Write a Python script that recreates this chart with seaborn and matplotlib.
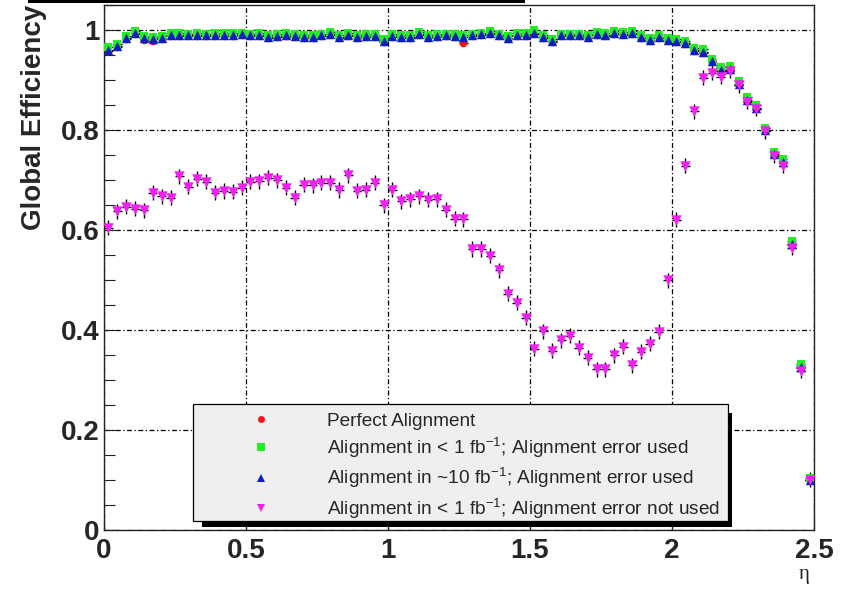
import numpy as np
import pandas as pd
import matplotlib
matplotlib.use("Agg")
import matplotlib.pyplot as plt
from matplotlib.lines import Line2D
from matplotlib.patches import Rectangle
from matplotlib.ticker import FixedLocator, FixedFormatter, MultipleLocator
import seaborn as sns

# 80 eta bins between 0 and 2.5
eta_edges = np.linspace(0.0, 2.5, 81)
eta = 0.5 * (eta_edges[:-1] + eta_edges[1:])
half_bin = 0.5 * (eta_edges[1] - eta_edges[0])

eff_perfect = [
    0.958, 0.967, 0.983, 0.993, 0.980, 0.978, 0.983, 0.989, 0.989, 0.988,
    0.989, 0.988, 0.989, 0.989, 0.989, 0.990, 0.988, 0.989, 0.985, 0.986,
    0.989, 0.987, 0.985, 0.985, 0.988, 0.991, 0.985, 0.989, 0.985, 0.986,
    0.987, 0.977, 0.986, 0.985, 0.985, 0.991, 0.985, 0.986, 0.988, 0.986,
    0.975, 0.988, 0.990, 0.993, 0.988, 0.983, 0.989, 0.989, 0.993, 0.985,
    0.977, 0.988, 0.988, 0.988, 0.985, 0.991, 0.989, 0.993, 0.991, 0.993,
    0.985, 0.979, 0.985, 0.979, 0.977, 0.973, 0.958, 0.955, 0.936, 0.918,
    0.921, 0.891, 0.858, 0.843, 0.798, 0.750, 0.735, 0.570, 0.325, 0.100,
]
eff_1fb_err = [
    0.966, 0.973, 0.989, 0.998, 0.989, 0.987, 0.989, 0.994, 0.994, 0.993,
    0.994, 0.993, 0.994, 0.994, 0.994, 0.995, 0.993, 0.994, 0.991, 0.992,
    0.994, 0.992, 0.991, 0.991, 0.993, 0.996, 0.991, 0.994, 0.991, 0.992,
    0.993, 0.983, 0.992, 0.991, 0.991, 0.996, 0.991, 0.992, 0.993, 0.992,
    0.991, 0.993, 0.995, 0.998, 0.993, 0.989, 0.994, 0.994, 1.001, 0.991,
    0.983, 0.993, 0.993, 0.993, 0.991, 0.996, 0.994, 0.998, 0.996, 0.998,
    0.991, 0.985, 0.991, 0.985, 0.983, 0.979, 0.965, 0.962, 0.943, 0.926,
    0.928, 0.898, 0.866, 0.851, 0.805, 0.757, 0.742, 0.578, 0.333, 0.104,
]
eff_10fb_err = [
    0.960, 0.969, 0.985, 0.995, 0.985, 0.983, 0.985, 0.991, 0.991, 0.990,
    0.991, 0.990, 0.991, 0.991, 0.991, 0.992, 0.990, 0.991, 0.987, 0.988,
    0.991, 0.989, 0.987, 0.987, 0.990, 0.993, 0.987, 0.991, 0.987, 0.988,
    0.989, 0.979, 0.988, 0.987, 0.987, 0.993, 0.987, 0.988, 0.990, 0.988,
    0.987, 0.990, 0.992, 0.995, 0.990, 0.985, 0.991, 0.991, 0.995, 0.987,
    0.979, 0.990, 0.990, 0.990, 0.987, 0.993, 0.991, 0.995, 0.993, 0.995,
    0.987, 0.981, 0.987, 0.981, 0.979, 0.975, 0.960, 0.957, 0.938, 0.920,
    0.923, 0.893, 0.860, 0.845, 0.800, 0.752, 0.737, 0.572, 0.327, 0.101,
]
eff_1fb_noerr = [
    0.605, 0.638, 0.647, 0.643, 0.640, 0.675, 0.668, 0.665, 0.708, 0.687,
    0.703, 0.697, 0.675, 0.678, 0.677, 0.685, 0.697, 0.698, 0.705, 0.700,
    0.685, 0.665, 0.691, 0.690, 0.695, 0.695, 0.680, 0.710, 0.679, 0.681,
    0.695, 0.650, 0.681, 0.658, 0.662, 0.668, 0.661, 0.662, 0.641, 0.623,
    0.622, 0.562, 0.562, 0.549, 0.520, 0.473, 0.455, 0.425, 0.363, 0.398,
    0.359, 0.380, 0.389, 0.365, 0.345, 0.322, 0.322, 0.350, 0.367, 0.330,
    0.357, 0.373, 0.397, 0.500, 0.621, 0.729, 0.838, 0.905, 0.915, 0.907,
    0.919, 0.890, 0.857, 0.843, 0.798, 0.749, 0.729, 0.565, 0.319, 0.101,
]
err_aligned = 0.006
err_noerr = 0.015

series_labels = [
    "Perfect Alignment",
    "Alignment in < 1 fb$^{-1}$; Alignment error used",
    "Alignment in ~10 fb$^{-1}$; Alignment error used",
    "Alignment in < 1 fb$^{-1}$; Alignment error not used",
]
series_values = [eff_perfect, eff_1fb_err, eff_10fb_err, eff_1fb_noerr]
series_errors = [err_aligned, err_aligned, err_aligned, err_noerr]
series_colors = ["#ff1010", "#22ee22", "#0a1fbf", "#f020f0"]
series_markers = ["o", "s", "^", "v"]
series_sizes = [30, 40, 46, 56]

x_ticks = [0.0, 0.5, 1.0, 1.5, 2.0, 2.5]
x_ticklabels = ["0", "0.5", "1", "1.5", "2", "2.5"]
y_ticks = [0.0, 0.2, 0.4, 0.6, 0.8, 1.0]
y_ticklabels = ["0", "0.2", "0.4", "0.6", "0.8", "1"]

sns.set_theme(style="white")
plt.rcParams["font.family"] = ["Liberation Sans", "DejaVu Sans"]
plt.rcParams["mathtext.fontset"] = "custom"
plt.rcParams["mathtext.rm"] = "Liberation Sans"
plt.rcParams["mathtext.it"] = "Liberation Sans:italic"
plt.rcParams["mathtext.bf"] = "Liberation Sans:bold"

fig = plt.figure(figsize=(8.5, 5.9), dpi=100, facecolor="white")
ax = fig.add_axes([104 / 850, 60 / 590, 710 / 850, 525 / 590])
ax.set_facecolor("white")

frames = []
for lab, vals in zip(series_labels, series_values):
    frames.append(pd.DataFrame({"eta": eta, "eff": vals, "series": lab}))
df = pd.concat(frames, ignore_index=True)

for lab, err, col, mk, sz in zip(series_labels, series_errors, series_colors,
                                 series_markers, series_sizes):
    sub = df[df["series"] == lab]
    ax.errorbar(sub["eta"], sub["eff"], yerr=err, xerr=half_bin, fmt="none",
                ecolor="black", elinewidth=1.0, capsize=0, zorder=3)
    sns.scatterplot(data=sub, x="eta", y="eff", ax=ax, color=col, marker=mk,
                    s=sz, linewidth=0, legend=False, zorder=4)

ax.set_xlim(0, 2.5)
ax.set_ylim(0, 1.05)

# ROOT-style frame, ticks and dash-dot grid
for side in ["left", "bottom", "right", "top"]:
    ax.spines[side].set_visible(True)
    ax.spines[side].set_color("#222222")
    ax.spines[side].set_linewidth(1.0)

ax.xaxis.set_major_locator(FixedLocator(x_ticks))
ax.xaxis.set_major_formatter(FixedFormatter(x_ticklabels))
ax.yaxis.set_major_locator(FixedLocator(y_ticks))
ax.yaxis.set_major_formatter(FixedFormatter(y_ticklabels))
ax.yaxis.set_minor_locator(MultipleLocator(0.05))

ax.tick_params(axis="both", which="major", direction="in", width=0.8,
               color="#222222", labelsize=20, bottom=True, left=True,
               top=False, right=False)
ax.tick_params(axis="y", which="major", length=10, pad=3.5)
ax.tick_params(axis="y", which="minor", direction="in", length=8, width=0.8,
               color="#222222", left=True, right=False)
ax.tick_params(axis="x", which="major", length=8, pad=6)
for t in ax.get_xticklabels() + ax.get_yticklabels():
    t.set_fontweight("bold")

ax.grid(True, which="major", color="black", linewidth=0.9,
        linestyle=(0, (4, 2, 1, 2)))
ax.set_axisbelow(True)

ax.set_xlabel("")
ax.set_ylabel("Global Efficiency", fontsize=20, fontweight="bold", loc="top")
ax.yaxis.set_label_coords(-0.08, 1.0)

fig.text(804 / 850, 1 - 574 / 590, "η", family=["Liberation Serif", "DejaVu Serif"],
         fontsize=15, ha="center", va="center")

# Legend panel with drop shadow
ax.add_patch(Rectangle((0.138, 0.0057), 0.7465, 0.2172, transform=ax.transAxes,
                       facecolor="black", edgecolor="none", zorder=8,
                       clip_on=False))
ax.add_patch(Rectangle((0.1254, 0.0171), 0.7535, 0.2229, transform=ax.transAxes,
                       facecolor="#efefef", edgecolor="black", linewidth=0.9,
                       zorder=9, clip_on=False))
handles = [
    Line2D([], [], linestyle="none", marker=mk, color=col, markersize=ms,
           markeredgewidth=0)
    for mk, col, ms in zip(series_markers, series_colors, [5, 5.5, 6, 6])
]
leg = ax.legend(handles, series_labels, loc="upper left",
                bbox_to_anchor=(0.2056, 0.224), frameon=False, fontsize=13.7,
                borderpad=0, borderaxespad=0, handlelength=1.19,
                handletextpad=2.86, labelspacing=0.33)
leg.set_zorder(10)

# bottom edge of the title panel
fig.patches.append(Rectangle((28 / 850, 587 / 590), (525 - 28) / 850, 3 / 590,
                             transform=fig.transFigure, facecolor="black",
                             edgecolor="none"))

fig.savefig("out.png", dpi=100, facecolor="white")
